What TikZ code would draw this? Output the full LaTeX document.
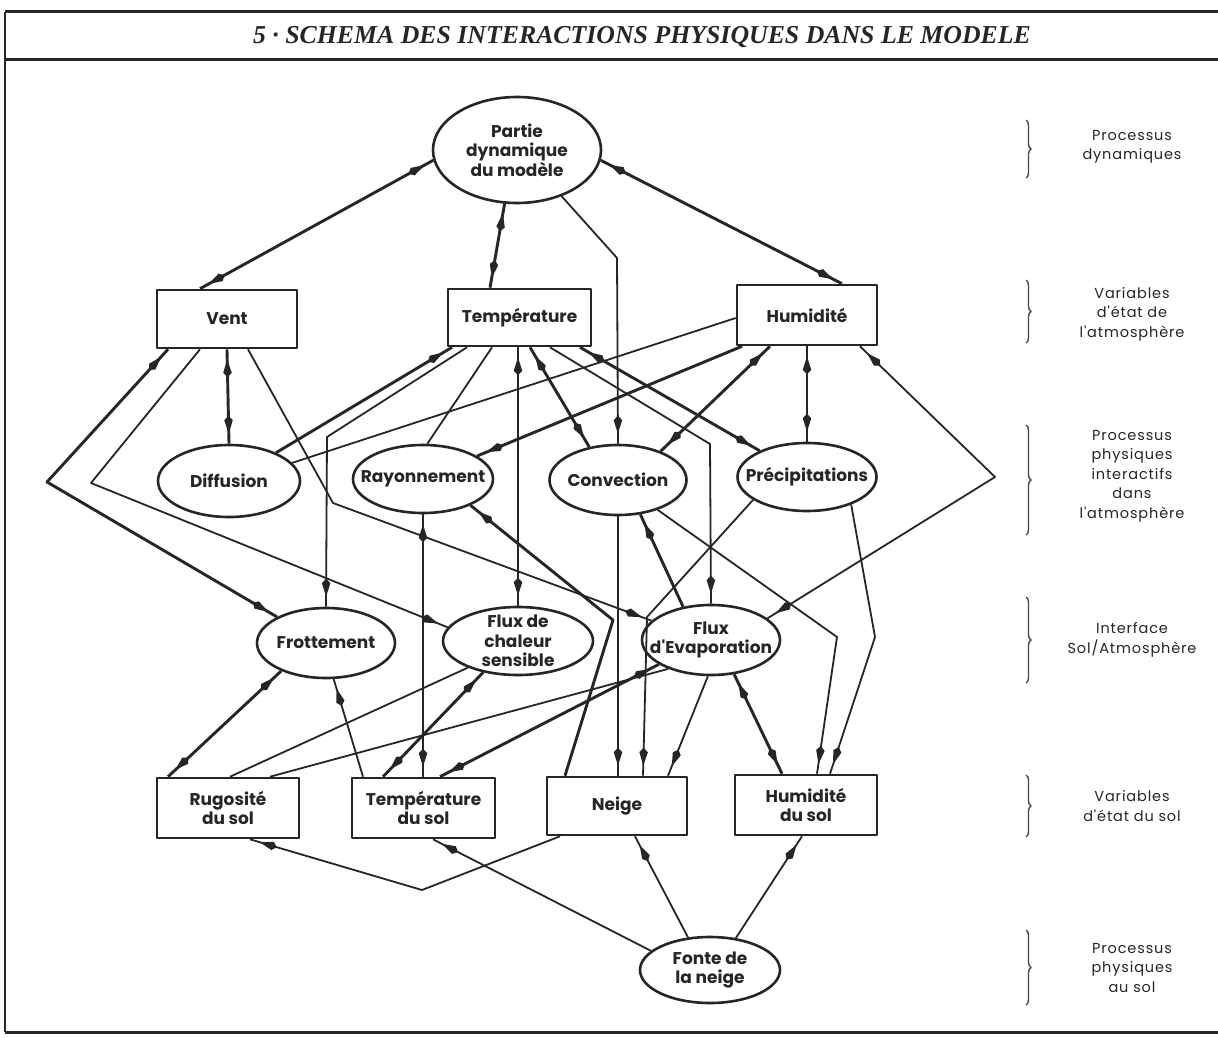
\documentclass[tikz,border=0pt]{standalone}
\usepackage{fontspec}
\setmainfont{Liberation Serif}
\newfontfamily\nodefont{Poppins}
\newfontfamily\lblfont[LetterSpace=6]{Poppins}
\usetikzlibrary{shapes.geometric,arrows.meta,decorations.markings,decorations.pathreplacing}
\definecolor{ink}{HTML}{262626}
\newcommand\nodetxt{\nodefont\bfseries\fontsize{17}{19.5}\selectfont}
\newcommand\lbltxt{\lblfont\fontsize{14.5}{19.5}\selectfont}
\begin{document}
\begin{tikzpicture}[x=1pt,y=-1pt,line join=round,
  box/.style={draw=ink,line width=2.6pt,rectangle,fill=white,inner sep=0pt,align=center,font=\nodetxt,text=ink},
  ell/.style={draw=ink,line width=2.6pt,ellipse,fill=white,inner sep=0pt},
  ntxt/.style={font=\nodetxt,align=center,text=ink,inner sep=0pt},
  lbl/.style={font=\lbltxt,align=center,text=ink,inner sep=0pt},
  thk/.style={draw=ink,line width=2.9pt},
  thn/.style={draw=ink,line width=1.8pt},
  ae/.style={postaction={decorate,decoration={markings,mark=at position -10pt with {\arrow{Kite[length=18pt,width=8.5pt]}}}}},
  as/.style={postaction={decorate,decoration={markings,mark=at position 10pt with {\arrowreversed{Kite[length=18pt,width=8.5pt]}}}}},
  brc/.style={draw=ink!85,line width=1.4pt,decorate,decoration={brace,amplitude=5pt}}
]
\fill[white] (0,0) rectangle (1218,1038);
\useasboundingbox (0,0) rectangle (1218,1038);

% frame
\draw[ink,line width=3pt] (5,12) -- (1218,12);
\draw[ink,line width=3pt] (5,60) -- (1218,60);
\draw[ink,line width=1.6pt] (5,12) -- (5,1032);
\draw[ink,line width=3pt] (5,1032) -- (1218,1032);
\node[font=\bfseries\itshape\fontsize{25.8}{30}\selectfont,text=ink] (title) at (642,37) {5 · SCHEMA DES INTERACTIONS PHYSIQUES DANS LE MODELE};

% nodes
\node[ell,minimum width=168pt,minimum height=106pt,label={[ntxt]center:{Partie\\dynamique\\du modèle}}] (P) at (517,150) {};
\node[box,minimum width=140pt,minimum height=58pt] (V) at (227,319) {Vent};
\node[box,minimum width=143pt,minimum height=57pt] (T) at (519.5,317.5) {Température};
\node[box,minimum width=140pt,minimum height=60pt] (H) at (807,315) {Humidité};
\node[ell,minimum width=142pt,minimum height=72pt,label={[ntxt]center:{Diffusion}}] (D) at (229,481) {};
\node[ell,minimum width=140pt,minimum height=68pt,label={[ntxt]center:{Rayonnement}}] (R) at (423,479) {};
\node[ell,minimum width=137pt,minimum height=70pt,label={[ntxt]center:{Convection}}] (C) at (618,480) {};
\node[ell,minimum width=139pt,minimum height=68pt,label={[ntxt]center:{Précipitations}}] (Pr) at (807,477) {};
\node[ell,minimum width=138pt,minimum height=70pt,label={[ntxt]center:{Frottement}}] (F) at (326,643) {};
\node[ell,minimum width=150pt,minimum height=68pt,label={[ntxt]center:{Flux de\\chaleur\\sensible}}] (FC) at (518,641) {};
\node[ell,minimum width=138pt,minimum height=70pt,label={[ntxt]center:{Flux\\d'Evaporation}}] (E) at (711,640) {};
\node[box,minimum width=142pt,minimum height=60pt] (RS) at (228,808) {Rugosité\\du sol};
\node[box,minimum width=143pt,minimum height=60pt] (TS) at (423.5,808) {Température\\du sol};
\node[box,minimum width=140pt,minimum height=58pt] (N) at (617,806) {Neige};
\node[box,minimum width=142pt,minimum height=60pt] (HS) at (806,805) {Humidité\\du sol};
\node[ell,minimum width=140pt,minimum height=66pt,label={[ntxt]center:{Fonte de\\la neige}}] (FN) at (710,970) {};

% bends
\coordinate (b1) at (617,258);
\coordinate (a1) at (47,482);
\coordinate (a2) at (91,483);
\coordinate (b2) at (333,503);
\coordinate (b3) at (327,437);
\coordinate (b4) at (710,444);
\coordinate (a3) at (995,477);
\coordinate (b5) at (613,620);
\coordinate (b6) at (837,637);
\coordinate (b8) at (647,617);
\coordinate (b9) at (875,637);
\coordinate (a4) at (422,890);

% dynamics
\draw[thk,as,ae] (P.187) -- (200,0 |- V.north);
\draw[thk,as,ae] (P.257) -- (490,0 |- T.north);
\draw[thk,as,ae] (P.353) -- (842,0 |- H.north);
\draw[thn,ae] (P.314) -- (b1) -- (C.north);
% wind
\draw[thk,as,ae] (V.south) -- (D.north);
\draw[thk,as,ae] (168,0 |- V.south) -- (a1) -- (F.152);
\draw[thn,ae] (200,0 |- V.south) -- (a2) -- (FC.169);
\draw[thn,ae] (248,0 |- V.south) -- (b2) -- (E.162);
% temperature
\draw[thk,ae] (D.31) -- (452,0 |- T.south);
\draw[thn,ae] (467,0 |- T.south) -- (b3) -- (F.north);
\draw[thn] (492,0 |- T.south) -- (R.83);
\draw[thk,as,ae] (518,0 |- T.south) -- (FC.north);
\draw[thk,as,ae] (530,0 |- T.south) -- (C.131);
\draw[thk,as,ae] (580,0 |- T.south) -- (Pr.151);
\draw[thn,ae] (550,0 |- T.south) -- (b4) -- (E.north);
% humidity
\draw[thn] (H.west |- 0,318) -- (D.16);
\draw[thk,ae] (742,0 |- H.south) -- (R.23);
\draw[thk,as,ae] (770,0 |- H.south) -- (C.34);
\draw[thk,as,ae] (H.south) -- (Pr.north);
\draw[thn,as,ae] (860,0 |- H.south) -- (a3) -- (E.21);
% processes to soil
\draw[thk,as,ae] (R.south) -- (R.south |- TS.north);
\draw[thk,ae] (565,0 |- N.north) -- (b5) -- (R.331);
\draw[thn,ae] (C.south) -- (C.south |- N.north);
\draw[thn,ae] (C.323) -- (b6) -- (817,0 |- HS.north);
\draw[thk,ae] (E.130) -- (C.303);
\draw[thn,ae] (Pr.203) -- (b8) -- (643,0 |- N.north);
\draw[thn,ae] (Pr.328) -- (b9) -- (830,0 |- HS.north);
% interface
\draw[thk,as,ae] (E.304) -- (782,0 |- HS.north);
\draw[thn,ae] (E.265) -- (668,0 |- N.north);
\draw[thk,as,ae] (E.205) -- (440,0 |- TS.north);
\draw[thn] (270,0 |- RS.north) -- (E.214);
\draw[thn] (230,0 |- RS.north) -- (FC.208);
\draw[thk,as,ae] (FC.222) -- (383,0 |- TS.north);
\draw[thk,as,ae] (F.212) -- (168,0 |- RS.north);
\draw[thn,ae] (363,0 |- TS.north) -- (F.282);
% soil
\draw[thn,ae] (560,0 |- N.south) -- (a4) -- (250,0 |- RS.south);
\draw[thn,ae] (FN.162) -- (433,0 |- TS.south);
\draw[thn,ae] (FN.124) -- (635,0 |- N.south);
\draw[thn,ae] (FN.51) -- (802,0 |- HS.south);

% right labels
\node[lbl] (L1) at (1132,147) {Processus\\dynamiques};
\node[lbl] (L2) at (1132,314) {Variables\\d'état de\\l'atmosphère};
\node[lbl] (L3) at (1132,476) {Processus\\physiques\\interactifs\\dans\\l'atmosphère};
\node[lbl] (L4) at (1132,640) {Interface\\Sol/Atmosphère};
\node[lbl] (L5) at (1132,806) {Variables\\d'état du sol};
\node[lbl] (L6) at (1132,968) {Processus\\physiques\\au sol};
\draw[brc] (1026,120) -- (1026,178);
\draw[brc] (1026,280) -- (1026,343);
\draw[brc] (1026,425) -- (1026,535);
\draw[brc] (1026,597) -- (1026,683);
\draw[brc] (1026,775) -- (1026,837);
\draw[brc] (1026,930) -- (1026,1005);
\end{tikzpicture}
\end{document}
